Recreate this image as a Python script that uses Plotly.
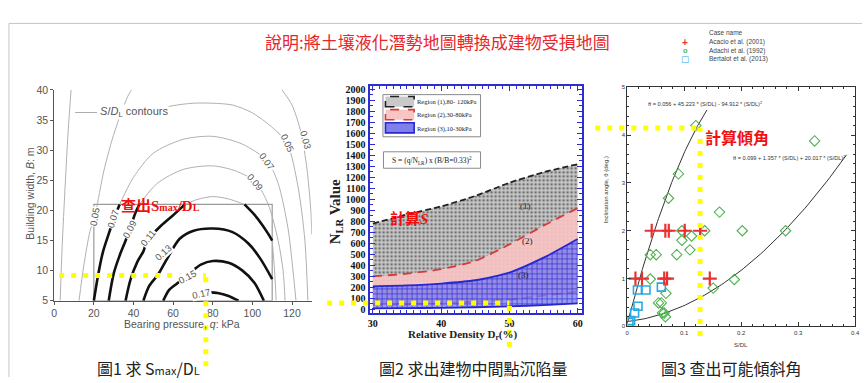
import numpy as np
import plotly.graph_objects as go

W, H = 867, 383


def px(x):
    return x / W


def py(y):
    return 1 - y / H


SANS = "Liberation Sans, Arial, sans-serif"
SERIF = "Liberation Serif, Times New Roman, serif"
CJK = "Noto Sans CJK TC, Noto Sans CJK SC, sans-serif"
RED_FONT = "Liberation Serif, Noto Sans CJK TC, serif"
RED = "#f01010"
YELLOW = "#ffff00"

# ---------------- Fig.1 : S/DL contours (q vs B) ----------------
Q_RANGE = [0, 130]
B_RANGE = [5, 40]
Q_TICKS = [0, 20, 40, 60, 80, 100, 120]
BOX_Q = [20, 110]
BOX_B = [5, 21]

# thin grey contour lines (q in kPa, B in m)
GRAY_Q = [
    [3.0, 4.0, 5.5, 7.0, 8.5],
    [12.5, 15, 18, 20.8, 25, 29, 33, 37.5, 40],
    [115, 120, 124.5, 127.5, 129.5, 130],
    [42, 50, 60, 70, 80, 90, 100, 110, 117.5, 123, 126.5, 128],
    [33, 40, 50, 65, 80, 95, 107.5, 113, 118, 120.5, 122],
    [43, 52, 65, 80, 92, 101.7, 108, 113, 115.5, 116.5],
    [66, 72, 80, 88, 96],
    [110, 111.2, 112],
]
GRAY_B = [
    [5, 14, 24, 33, 40],
    [5, 11, 16.5, 19.6, 26.5, 31.5, 35.5, 39.2, 40.5],
    [40, 37.5, 33, 27, 20, 16],
    [35.2, 36.6, 37.4, 37.8, 37.8, 37.5, 36.2, 33.8, 31.2, 24, 15, 5],
    [21, 25.5, 29.5, 31.8, 32.3, 31, 28.2, 24.5, 17, 10, 5],
    [21, 24.5, 26.8, 27.4, 26.5, 24.7, 21, 15, 10, 5],
    [21, 21.8, 22.3, 21.9, 21],
    [15, 10, 5],
]

# heavy contour lines inside the data box
BLACK_Q = [
    [20, 22, 24.5, 27.5, 30, 33],
    [27.5, 30, 33, 35.8, 38.3, 41, 43],
    [36, 38.5, 42, 45, 47, 54, 60, 66],
    [96, 101, 105, 108, 110],
    [45, 48, 52.5, 57, 63.3, 70, 80, 90, 98, 104, 110],
    [55, 58, 61.7, 68, 74, 80, 88, 95, 101, 105.8],
    [78, 82.5, 88, 93],
]
BLACK_B = [
    [5, 9, 13, 16.1, 18.5, 21],
    [5, 9.5, 12.5, 14.8, 17, 19.6, 21],
    [5, 8.5, 11.5, 13.2, 15, 17.5, 19.2, 21],
    [21, 19.3, 17.6, 16.1, 15],
    [5, 7.5, 9.4, 12, 15.3, 16.6, 17, 16.4, 14.5, 12, 8.6],
    [5, 6.8, 7.8, 9.5, 11, 11.6, 11.3, 10, 8, 5],
    [6.4, 6.3, 5.8, 5],
]

# contour level labels: text, q, B, angle
LABEL_TEXT = ["0.05", "0.07", "0.09", "0.11", "0.13", "0.15", "0.17",
              "0.09", "0.07", "0.05", "0.03"]
LABEL_Q = [20.4, 29.6, 38.2, 47.5, 55.0, 67.5, 74.5, 101.7, 107.5, 117.5, 126.7]
LABEL_B = [19.0, 18.7, 17.0, 15.5, 13.0, 9.0, 6.2, 24.7, 28.2, 31.2, 31.7]
LABEL_ANGLE = [-80, -72, -62, -52, -42, -28, -12, 50, 55, 65, 75]

LOOKUP_Q, LOOKUP_B = 76.5, 9.2

# ---------------- Fig.2 : N_LR vs relative density ----------------
DR = [30, 35, 40, 45, 50, 55, 60]
R1_TOP = [780, 862, 935, 1030, 1150, 1245, 1318]
R1_BOT = [65, 75, 95, 115, 150, 210, 290]
R2_TOP = [300, 325, 365, 440, 590, 760, 920]
R2_BOT = [40, 45, 55, 70, 90, 125, 160]
R3_TOP = [210, 218, 235, 265, 335, 470, 640]
R3_BOT = [10, 12, 15, 20, 28, 40, 55]
DR_RANGE = [29.52, 60.58]
N_RANGE = [-30, 2024]
REGION_NAMES = ["Region (1),80- 120kPa", "Region (2),30-80kPa", "Region (3),10-30kPa"]
LOOKUP_DR, LOOKUP_N = 50.0, 58

# ---------------- Fig.3 : inclination angle vs S/DL ----------------
ACACIO_X = [0.043, 0.067, 0.073, 0.101, 0.128, 0.0145, 0.026, 0.065, 0.070, 0.145]
ACACIO_Y = [2, 2, 2, 2, 2, 1, 1, 1, 1, 1]
ADACHI_X = [0.1205, 0.090, 0.0725, 0.162, 0.329, 0.096, 0.136, 0.202, 0.278,
            0.113, 0.096, 0.110, 0.087, 0.0405, 0.051, 0.0405, 0.188, 0.151,
            0.068, 0.055, 0.060, 0.062, 0.065, 0.067]
ADACHI_Y = [4.2, 3.19, 2.68, 2.39, 3.88, 2.0, 2.0, 2.0, 2.0,
            1.89, 1.8, 1.6, 1.5, 1.5, 1.5, 0.99, 0.98, 0.8,
            0.69, 0.49, 0.49, 0.28, 0.28, 0.2]
BERTALOT_X = [0.018, 0.033, 0.060, 0.019, 0.013, 0.003, 0.006]
BERTALOT_Y = [0.76, 0.76, 0.82, 0.42, 0.28, 0.08, 0.12]
FIT_STEEP = [0.056, 45.223, -94.912]
FIT_STEEP_END = 0.14
FIT_FLAT = [0.099, 1.357, 20.017]
FIT_FLAT_END = 0.385
LOOKUP_SDL, LOOKUP_THETA = 0.128, 4.15

fig = go.Figure()

# ---- Fig.1 traces
for qs, bs in zip(GRAY_Q, GRAY_B):
    fig.add_trace(go.Scatter(x=qs, y=bs, mode="lines", xaxis="x", yaxis="y",
                             line=dict(color="#b0b0b0", width=1, shape="spline", smoothing=0.8),
                             showlegend=False, hoverinfo="skip"))
for qs, bs in zip(BLACK_Q, BLACK_B):
    fig.add_trace(go.Scatter(x=qs, y=bs, mode="lines", xaxis="x", yaxis="y",
                             line=dict(color="#111", width=2.6, shape="spline", smoothing=0.8),
                             showlegend=False, hoverinfo="skip"))

# ---- Fig.2 traces (bands)
bands = [
    (R1_BOT, R1_TOP, dict(color="#222", width=1.8, dash="6px,3px"),
     dict(shape=".", size=4, solidity=0.35, fgcolor="#6f6f6f", bgcolor="#c9c9c9", fillmode="replace")),
    (R2_BOT, R2_TOP, dict(color="#d23c3c", width=1.8, dash="9px,6px"), None),
    (R3_BOT, R3_TOP, dict(color="#2727cf", width=1.8),
     dict(shape="+", size=5, solidity=0.25, fgcolor="#2f2fd8", bgcolor="rgba(125,125,236,0.78)", fillmode="replace")),
]
for lo, hi, ln, pat in bands:
    fig.add_trace(go.Scatter(x=DR, y=lo, mode="lines", xaxis="x2", yaxis="y2",
                             line=dict(ln, shape="spline", smoothing=0.6),
                             showlegend=False, hoverinfo="skip"))
    kw = dict(fill="tonexty")
    if pat is None:
        kw["fillcolor"] = "rgba(250,196,196,0.9)"
    else:
        kw["fillpattern"] = pat
    fig.add_trace(go.Scatter(x=DR, y=hi, mode="lines", xaxis="x2", yaxis="y2",
                             line=dict(ln, shape="spline", smoothing=0.6),
                             showlegend=False, hoverinfo="skip", **kw))

# ---- Fig.3 traces
for coef, end in [(FIT_STEEP, FIT_STEEP_END), (FIT_FLAT, FIT_FLAT_END)]:
    s = np.linspace(0, end, 80)
    th = coef[0] + coef[1] * s + coef[2] * s ** 2
    fig.add_trace(go.Scatter(x=s, y=th, mode="lines", xaxis="x3", yaxis="y3",
                             line=dict(color="#333", width=1),
                             showlegend=False, hoverinfo="skip"))
fig.add_trace(go.Scatter(x=ADACHI_X, y=ADACHI_Y, mode="markers", xaxis="x3", yaxis="y3",
                         marker=dict(symbol="diamond-open", size=8, color="#4fb24f",
                                     line=dict(width=1.1, color="#4fb24f")),
                         showlegend=False))
fig.add_trace(go.Scatter(x=BERTALOT_X, y=BERTALOT_Y, mode="markers", xaxis="x3", yaxis="y3",
                         marker=dict(symbol="square-open", size=8, color="#2aa8e2",
                                     line=dict(width=1.6, color="#2aa8e2")),
                         showlegend=False))
fig.add_trace(go.Scatter(x=ACACIO_X, y=ACACIO_Y, mode="markers", xaxis="x3", yaxis="y3",
                         marker=dict(symbol="cross-thin", size=10, color="#e63232",
                                     line=dict(width=2.2, color="#e63232")),
                         showlegend=False))

ann = []
shapes = []


def text(x, y, t, size, family=SANS, color="#333", xref="paper", yref="paper",
         angle=0, xanchor="center", yanchor="middle", bg=None, weight=None):
    f = dict(size=size, family=family, color=color)
    if weight:
        f["weight"] = weight
    a = dict(x=x, y=y, text=t, xref=xref, yref=yref, showarrow=False, font=f,
             textangle=angle, xanchor=xanchor, yanchor=yanchor, borderpad=0)
    if bg:
        a["bgcolor"] = bg
    ann.append(a)


# slide frame and headline
shapes.append(dict(type="line", xref="paper", yref="paper", x0=px(6), x1=1, y0=py(18), y1=py(18),
                   line=dict(color="#c4c4c4", width=1)))
shapes.append(dict(type="line", xref="paper", yref="paper", x0=px(6), x1=px(6), y0=0, y1=py(18),
                   line=dict(color="#c4c4c4", width=1)))
text(px(439), py(37), "說明:將土壤液化潛勢地圖轉換成建物受損地圖", 17, CJK, "#e8262c")

# ---- Fig.1 decorations
shapes.append(dict(type="rect", xref="x", yref="y", x0=BOX_Q[0], x1=BOX_Q[1], y0=BOX_B[0], y1=BOX_B[1],
                   line=dict(color="#9a9a9a", width=1.2), layer="below"))
for t, q, b, ang in zip(LABEL_TEXT, LABEL_Q, LABEL_B, LABEL_ANGLE):
    text(q, b, t, 9.5, SANS, "#555", "x", "y", angle=ang, bg="white")
text(10, 36.3, "<span style='color:#999'>—— </span><i>S</i>/<i>D</i><sub>L</sub> contours",
     11, SANS, "#555", "x", "y", xanchor="left", bg="white")
text(px(181), py(328.5), "Bearing pressure, <i>q</i>: kPa", 10.5, SANS, "#555")
text(px(27), py(194), "Building width, <i>B</i>: m", 10.5, SANS, "#555", angle=-90)
text(53.6, 20.8, "查出S<span style='font-size:10px'>max</span>/D<span style='font-size:10px'>L</span>",
     15, RED_FONT, RED, "x", "y", weight="bold")
shapes.append(dict(type="line", xref="x", yref="y", x0=2.5, x1=LOOKUP_Q, y0=LOOKUP_B, y1=LOOKUP_B,
                   line=dict(color=YELLOW, width=5, dash="5px,7px")))
shapes.append(dict(type="line", xref="x", yref="paper", x0=LOOKUP_Q, x1=LOOKUP_Q,
                   y0=py(372), y1=py(278.5), line=dict(color=YELLOW, width=5, dash="5px,7px")))
text(px(147), py(374), "圖1 求 S<span style='font-size:11px'>max</span>/D<span style='font-size:11px'>L</span>",
     16, CJK, "#222")


# ---- Fig.2 decorations
def dom(v, rng):
    return (v - rng[0]) / (rng[1] - rng[0])


# legend box
shapes.append(dict(type="rect", xref="paper", yref="paper", x0=px(383.5), x1=px(482), y0=py(135), y1=py(91.5),
                   line=dict(color="#8a8a8a", width=1), fillcolor="white"))
sw = [("#c9c9c9", "#222", "dash"), ("#f8c4c4", "#d23c3c", "dash"), ("#8080ea", "#2727cf", "solid")]
for i, (fc, lc, dsh) in enumerate(sw):
    y0 = 93.5 + i * 13.5
    shapes.append(dict(type="rect", xref="paper", yref="paper", x0=px(386), x1=px(415),
                       y0=py(y0 + 10.5), y1=py(y0), fillcolor=fc,
                       line=dict(color=lc, width=1.6, dash=dsh)))
    text(px(417), py(y0 + 6), REGION_NAMES[i], 6.5, SERIF, "#222", xanchor="left")
shapes.append(dict(type="rect", xref="paper", yref="paper", x0=px(384), x1=px(482), y0=py(167.5), y1=py(150.5),
                   line=dict(color="#8a8a8a", width=1), fillcolor="white"))
text(px(433), py(159), "S = (q/N<sub>LR</sub>) x (B/B=0.33)<sup>2</sup>", 7.5, SERIF, "#222")
text(52.3, 937, "(1)", 9, SERIF, "#222", "x2", "y2")
text(52.7, 621, "(2)", 9, SERIF, "#222", "x2", "y2")
text(52.0, 316, "(3)", 9, SERIF, "#222", "x2", "y2")
text(px(336), py(212), "N<sub>LR</sub> Value", 15, SERIF, "#222", angle=-90, weight="bold")
text(px(464), py(340), "Relative Density D<sub>r</sub>(%)", 11, SERIF, "#222", weight="bold")
text(px(410), py(219), "計算<i>S</i>", 15, RED_FONT, RED, weight="bold")
ydr = dom(LOOKUP_N, N_RANGE)
xdr = dom(LOOKUP_DR, DR_RANGE)
shapes.append(dict(type="line", xref="x2 domain", yref="y2 domain", x0=dom(23.3, DR_RANGE), x1=xdr,
                   y0=ydr, y1=ydr, line=dict(color=YELLOW, width=5, dash="5px,7px")))
shapes.append(dict(type="line", xref="x2 domain", yref="paper", x0=xdr, x1=xdr,
                   y0=py(352), y1=py(306.5), line=dict(color=YELLOW, width=5, dash="5px,7px")))
text(px(474), py(374), "圖2 求出建物中間點沉陷量", 16, CJK, "#222")

# ---- Fig.3 decorations
text(px(711.5), py(27.5), "Case name", 6.5, SANS, "#444", xanchor="left")
for i, (sym, col, sz, fam, name) in enumerate([
        ("<b>+</b>", "#e63232", 10, SANS, "Acacio et al. (2001)"),
        ("<b>o</b>", "#4fb24f", 7.5, SANS, "Adachi et al. (1992)"),
        ("□", "#2aa8e2", 8.5, "DejaVu Sans", "Bertalot et al. (2013)")]):
    yy = 37.3 + i * 8.9
    text(px(688.5), py(yy), sym, sz, fam, col)
    text(px(711.5), py(yy), name, 6.5, SANS, "#444", xanchor="left")
text(px(709), py(100.5), "θ = 0.056 + 45.223 * (S/DL) - 94.912 * (S/DL)<sup>2</sup>", 5.6, SANS, "#333")
text(px(793), py(156.5), "θ = 0.099 + 1.357 * (S/DL) + 20.017 * (S/DL)<sup>2</sup>", 5.6, SANS, "#333")
text(px(745), py(350), "S/DL", 6, SANS, "#333")
text(px(609), py(190), "Inclination angle, θ (deg.)", 6, SANS, "#333", angle=-90)
text(px(741), py(136), "計算傾角", 16, RED_FONT, RED, weight="bold")
yth = dom(LOOKUP_THETA, [0, 5])
xs = dom(LOOKUP_SDL, [0, 0.4])
shapes.append(dict(type="line", xref="x3 domain", yref="y3 domain", x0=dom(-0.056, [0, 0.4]), x1=xs,
                   y0=yth, y1=yth, line=dict(color=YELLOW, width=5, dash="5px,7px")))
shapes.append(dict(type="line", xref="x3 domain", yref="y3 domain", x0=xs, x1=xs,
                   y0=dom(-0.2, [0, 5]), y1=yth, line=dict(color=YELLOW, width=5, dash="5px,7px")))
text(px(735), py(374), "圖3 查出可能傾斜角", 16, CJK, "#222")

ax1 = dict(showgrid=False, zeroline=False, showline=True, linecolor="#555", linewidth=1,
           ticks="outside", ticklen=3, tickcolor="#555",
           tickfont=dict(family=SANS, size=10.5, color="#555"))
ax2 = dict(showgrid=False, zeroline=False, showline=True, linecolor="#2d2dd2", linewidth=2,
           mirror="allticks", ticks="inside", ticklen=5, tickcolor="#2d2dd2",
           tickfont=dict(family=SERIF, size=10, color="#111", weight="bold"))
ax3 = dict(showgrid=False, zeroline=False, showline=True, linecolor="#333", linewidth=1,
           mirror="allticks", ticks="inside", ticklen=4, tickcolor="#333",
           tickfont=dict(family=SANS, size=6, color="#333"))

fig.update_layout(
    width=W, height=H, margin=dict(l=0, r=0, t=0, b=0),
    paper_bgcolor="white", plot_bgcolor="white", showlegend=False,
    xaxis=dict(ax1, domain=[px(51.7), px(311.7)], range=Q_RANGE, tickvals=Q_TICKS, anchor="y"),
    yaxis=dict(ax1, domain=[py(304.3), py(86.7)], range=B_RANGE, dtick=5, anchor="x"),
    xaxis2=dict(ax2, domain=[px(370), px(584)], range=DR_RANGE, tickvals=[30, 40, 50, 60], anchor="y2",
                minor=dict(dtick=1, tick0=30, ticklen=3, ticks="inside", tickcolor="#2d2dd2")),
    yaxis2=dict(ax2, domain=[py(316.7), py(83)], range=N_RANGE, tick0=0, dtick=100, anchor="x2",
                minor=dict(dtick=50, tick0=0, ticklen=3, ticks="inside", tickcolor="#2d2dd2")),
    xaxis3=dict(ax3, domain=[px(630), px(860)], range=[0, 0.4], dtick=0.1, anchor="y3",
                minor=dict(dtick=0.02, ticklen=2, ticks="inside", tickcolor="#333")),
    yaxis3=dict(ax3, domain=[py(330.7), py(84)], range=[0, 5], dtick=1, anchor="x3",
                minor=dict(dtick=0.2, ticklen=2, ticks="inside", tickcolor="#333")),
    annotations=ann, shapes=shapes,
)

fig.write_html("out.html")
